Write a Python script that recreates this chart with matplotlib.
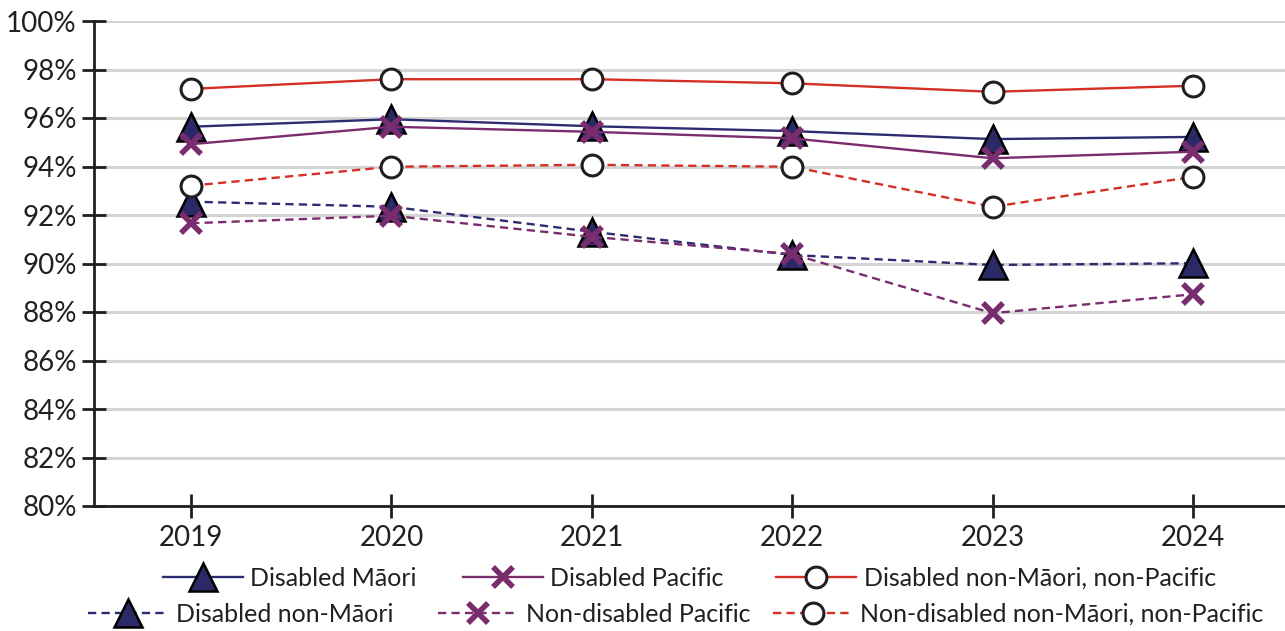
import matplotlib
matplotlib.use("Agg")
import matplotlib.pyplot as plt
from matplotlib.ticker import FuncFormatter

plt.rcParams['font.family'] = ['Lato', 'DejaVu Sans']

years = [2019, 2020, 2021, 2022, 2023, 2024]
disabled_maori = [95.64, 95.95, 95.66, 95.46, 95.13, 95.22]
disabled_pacific = [94.92, 95.64, 95.43, 95.16, 94.34, 94.61]
disabled_other = [97.20, 97.60, 97.60, 97.43, 97.08, 97.33]
disabled_non_maori = [92.55, 92.34, 91.31, 90.35, 89.94, 90.01]
nondisabled_pacific = [91.66, 91.97, 91.10, 90.39, 87.95, 88.73]
nondisabled_other = [93.21, 93.99, 94.07, 93.99, 92.34, 93.57]

series_labels = ["Disabled Māori", "Disabled Pacific", "Disabled non-Māori, non-Pacific",
                 "Disabled non-Māori", "Non-disabled Pacific",
                 "Non-disabled non-Māori, non-Pacific"]
yticks = [80, 82, 84, 86, 88, 90, 92, 94, 96, 98, 100]

NAVY = "#2d2b72"
NAVY_FILL = "#2b2966"
PURPLE = "#7a2d6e"
RED = "#d42e25"
INK = "#231f20"
GRID = "#d4d4d4"
TICK_FS = 20
LEG_FS = 18

W, H = 1285, 631
fig = plt.figure(figsize=(W / 100, H / 100), dpi=100)
ax = fig.add_axes([94 / W, 1 - 506 / H, (W - 94) / W, (506 - 21) / H])

tri = dict(marker="^", markersize=20, markerfacecolor=NAVY_FILL,
           markeredgecolor="black", markeredgewidth=1.8)
cross = dict(marker="x", markersize=15, markeredgecolor=PURPLE, markeredgewidth=4)
circ = dict(marker="o", markersize=15, markerfacecolor="white",
            markeredgecolor=INK, markeredgewidth=2.2)

dash = (0, (3.5, 2.2))

h1, = ax.plot(years, disabled_maori, color=NAVY, lw=1.7, zorder=3, **tri)
h4, = ax.plot(years, disabled_non_maori, color=NAVY, lw=1.7, ls=dash, zorder=3, **tri)
h2, = ax.plot(years, disabled_pacific, color=PURPLE, lw=1.7, zorder=4, **cross)
h5, = ax.plot(years, nondisabled_pacific, color=PURPLE, lw=1.7, ls=dash, zorder=4, **cross)
h3, = ax.plot(years, disabled_other, color=RED, lw=1.7, zorder=5, **circ)
h6, = ax.plot(years, nondisabled_other, color=RED, lw=1.7, ls=dash, zorder=5, **circ)

ax.set_xlim(2018.515, 2024.46)
ax.set_ylim(80, 100)
ax.set_xticks(years)
ax.set_yticks(yticks)
ax.yaxis.set_major_formatter(FuncFormatter(lambda v, p: f"{v:.0f}%"))
ax.grid(axis="y", color=GRID, lw=2.2, zorder=0)
ax.set_axisbelow(True)
for s in ("top", "right"):
    ax.spines[s].set_visible(False)
for s in ("left", "bottom"):
    ax.spines[s].set_color(INK)
    ax.spines[s].set_linewidth(2)
    ax.spines[s].set_zorder(6)
ax.tick_params(axis="both", direction="inout", length=17, width=2, color=INK,
               labelsize=TICK_FS, labelcolor=INK)
ax.tick_params(axis="y", pad=4)
ax.tick_params(axis="x", pad=5)
for ln in ax.lines:
    ln.set_clip_on(False)

# Legend: one entry per box so the two rows can be laid out independently
handles = [h1, h2, h3, h4, h5, h6]
entry_pos = [(163, 578), (463, 578), (776, 578),
             (88, 614), (438, 614), (773, 614)]
for h, lab, (px, py) in zip(handles, series_labels, entry_pos):
    fig.legend([h], [lab], loc="center left", bbox_to_anchor=(px / W, 1 - py / H),
               frameon=False, fontsize=LEG_FS, handlelength=3.2, handletextpad=0.3,
               borderpad=0, borderaxespad=0, labelcolor=INK)

fig.savefig("out.png", dpi=100)
